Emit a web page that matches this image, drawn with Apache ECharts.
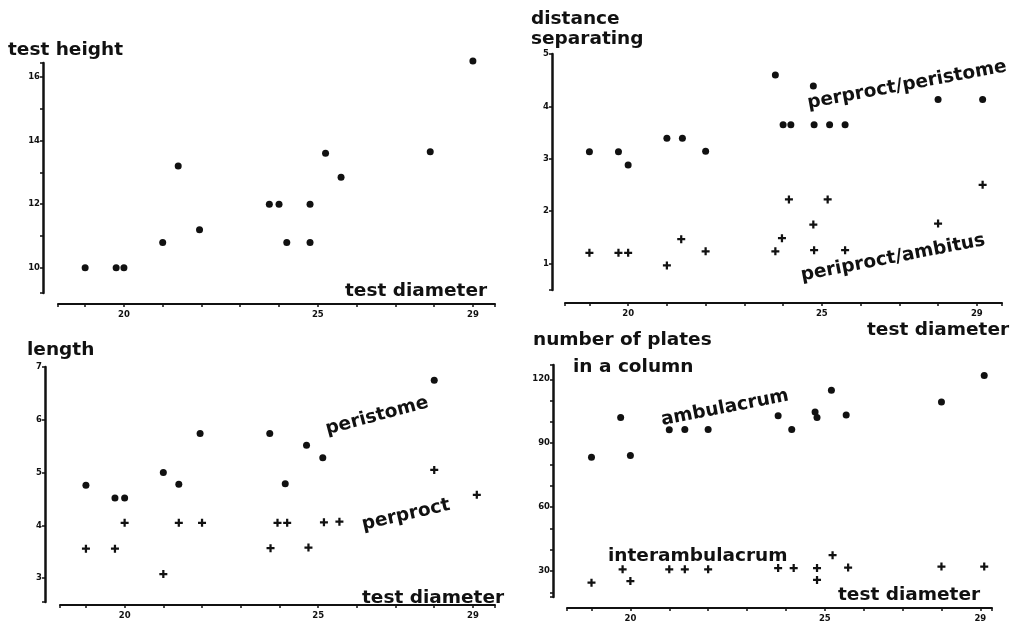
<!DOCTYPE html>
<html>
<head>
<meta charset="utf-8">
<script src="https://cdn.jsdelivr.net/npm/echarts@6/dist/echarts.min.js"></script>
<style>html,body{margin:0;background:#fff}#main{width:1019px;height:627px}</style>
</head>
<body>
<div id="main"></div>
<script>
// tick labels
var xTickLabels = [20, 25, 29];
var heightTicks = [10, 12, 14, 16];
var distTicks = [1, 2, 3, 4, 5];
var lengthTicks = [3, 4, 5, 6, 7];
var platesTicks = [30, 60, 90, 120];

// test height / test diameter
var heightDiam = [19.0, 19.8, 20.0, 21.0, 21.4, 21.95, 23.75, 24.0, 24.2, 24.8, 24.8, 25.2, 25.6, 27.9, 29.0];
var heightVal = [10.0, 10.0, 10.0, 10.8, 13.2, 11.2, 12.0, 12.0, 10.8, 12.0, 10.8, 13.6, 12.85, 13.65, 16.5];

// distance separating perproct/peristome and periproct/ambitus
var periDiam = [19.0, 19.75, 20.0, 21.0, 21.4, 22.0, 23.8, 24.0, 24.2, 24.78, 24.8, 25.2, 25.6, 28.0, 29.15];
var periDist = [3.13, 3.13, 2.88, 3.39, 3.39, 3.14, 4.6, 3.65, 3.65, 4.39, 3.65, 3.65, 3.65, 4.13, 4.13];
var ambDiam = [19.0, 19.75, 20.0, 21.0, 21.37, 22.0, 23.8, 23.97, 24.15, 24.78, 24.8, 25.15, 25.6, 28.0, 29.15];
var ambDist = [1.2, 1.2, 1.2, 0.96, 1.46, 1.23, 1.23, 1.48, 2.22, 1.74, 1.25, 2.22, 1.25, 1.76, 2.5];

// length of peristome and perproct
var peristomeDiam = [19.0, 19.75, 20.0, 21.0, 21.4, 21.95, 23.75, 24.15, 24.7, 25.12, 28.0];
var peristomeLen = [4.76, 4.52, 4.52, 5.0, 4.78, 5.74, 5.74, 4.79, 5.52, 5.28, 6.75];
var perproctDiam = [19.0, 19.75, 20.0, 21.0, 21.4, 22.0, 23.77, 23.95, 24.2, 24.75, 25.15, 25.55, 28.0, 29.1];
var perproctLen = [3.56, 3.56, 4.05, 3.08, 4.05, 4.05, 3.57, 4.05, 4.05, 3.58, 4.06, 4.07, 5.05, 4.58];

// number of plates in a column
var ambPlatesDiam = [19.0, 19.75, 20.0, 21.0, 21.4, 22.0, 23.8, 24.15, 24.75, 24.8, 25.17, 25.55, 28.0, 29.1];
var ambPlates = [83.4, 102, 84.2, 96.3, 96.4, 96.4, 102.9, 96.4, 104.6, 102, 114.8, 103.2, 109.3, 121.8];
var interDiam = [19.0, 19.8, 20.0, 21.0, 21.4, 22.0, 23.8, 24.2, 24.8, 24.8, 25.2, 25.6, 28.0, 29.1];
var interPlates = [24.5, 30.8, 25.3, 30.8, 30.8, 30.8, 31.4, 31.4, 31.4, 25.8, 37.4, 31.6, 32.1, 32.1];

var ink = '#111';
var font = '"DejaVu Sans", sans-serif';
var crossPath = 'path://M3.6,0H6.4V3.6H10V6.4H6.4V10H3.6V6.4H0V3.6H3.6Z';

function pairs(xs, ys) {
  return xs.map(function (x, i) { return [x, ys[i]]; });
}

function xAxis(grid, min, max, offset) {
  return {
    type: 'value', gridIndex: grid, min: min, max: max, offset: offset,
    minInterval: 1, maxInterval: 1, splitLine: { show: false },
    axisLine: { lineStyle: { color: ink, width: 2 } },
    axisTick: { length: 3, lineStyle: { color: ink, width: 1.5 } },
    axisLabel: {
      color: ink, fontFamily: font, fontWeight: 'bold', fontSize: 8.5, margin: 6,
      formatter: function (v) { return xTickLabels.indexOf(v) >= 0 ? String(v) : ''; }
    }
  };
}

function yAxis(grid, min, max, offset, step, labels) {
  return {
    type: 'value', gridIndex: grid, min: min, max: max, offset: offset,
    minInterval: step, maxInterval: step, splitLine: { show: false },
    axisLine: { show: true, lineStyle: { color: ink, width: 2.5 } },
    axisTick: { show: true, length: 3, lineStyle: { color: ink, width: 1.5 } },
    axisLabel: {
      color: ink, fontFamily: font, fontWeight: 'bold', fontSize: 8.5, margin: 3,
      formatter: function (v) { return labels.indexOf(v) >= 0 ? String(v) : ''; }
    }
  };
}

function dots(grid, xs, ys) {
  return { type: 'scatter', xAxisIndex: grid, yAxisIndex: grid, data: pairs(xs, ys), clip: false,
    symbol: 'circle', symbolSize: 7, itemStyle: { color: ink, opacity: 1 }, silent: true };
}
function crosses(grid, xs, ys) {
  return { type: 'scatter', xAxisIndex: grid, yAxisIndex: grid, data: pairs(xs, ys), clip: false,
    symbol: crossPath, symbolSize: 8, itemStyle: { color: ink, opacity: 1 }, silent: true };
}

function label(text, x, y, rot, align) {
  return {
    type: 'text', x: x, y: y, rotation: (rot || 0) * Math.PI / 180,
    style: { text: text, fill: ink, font: 'bold 18.5px ' + font,
      textAlign: align || 'left', textVerticalAlign: 'middle' }
  };
}

var myChart = echarts.init(document.getElementById('main'));

var option = {
  backgroundColor: '#fff',
  animation: false,
  grid: [
    { left: 58, right: 524, top: 63, bottom: 334 },
    { left: 565, right: 17, top: 54, bottom: 337 },
    { left: 60, right: 524, top: 367, bottom: 25 },
    { left: 567, right: 27, top: 365, bottom: 30 }
  ],
  xAxis: [
    xAxis(0, 18.3, 29.57, 11),
    xAxis(1, 18.37, 29.65, 13),
    xAxis(2, 18.33, 29.57, 3),
    xAxis(3, 18.37, 29.3, 11)
  ],
  yAxis: [
    yAxis(0, 9.21, 16.44, 15, 1, heightTicks),
    yAxis(1, 0.49, 5, 13, 1, distTicks),
    yAxis(2, 2.55, 7, 15, 1, lengthTicks),
    yAxis(3, 17.8, 126.7, 14, 10, platesTicks)
  ],
  series: [
    dots(0, heightDiam, heightVal),
    dots(1, periDiam, periDist),
    crosses(1, ambDiam, ambDist),
    dots(2, peristomeDiam, peristomeLen),
    crosses(2, perproctDiam, perproctLen),
    dots(3, ambPlatesDiam, ambPlates),
    crosses(3, interDiam, interPlates)
  ],
  graphic: [
    label('test height', 8, 50),
    label('test diameter', 345, 291),
    label('distance', 531, 19),
    label('separating', 531, 39),
    label('perproct/peristome', 907, 85, 10.5, 'center'),
    label('periproct/ambitus', 893, 258, 11, 'center'),
    label('test diameter', 867, 330),
    label('length', 27, 350),
    label('peristome', 377, 416, 15, 'center'),
    label('perproct', 406, 515, 13, 'center'),
    label('test diameter', 362, 598),
    label('number of plates', 533, 340),
    label('in a column', 573, 367),
    label('ambulacrum', 725, 408, 11, 'center'),
    label('interambulacrum', 608, 556),
    label('test diameter', 838, 595)
  ]
};

myChart.setOption(option);
</script>
</body>
</html>
